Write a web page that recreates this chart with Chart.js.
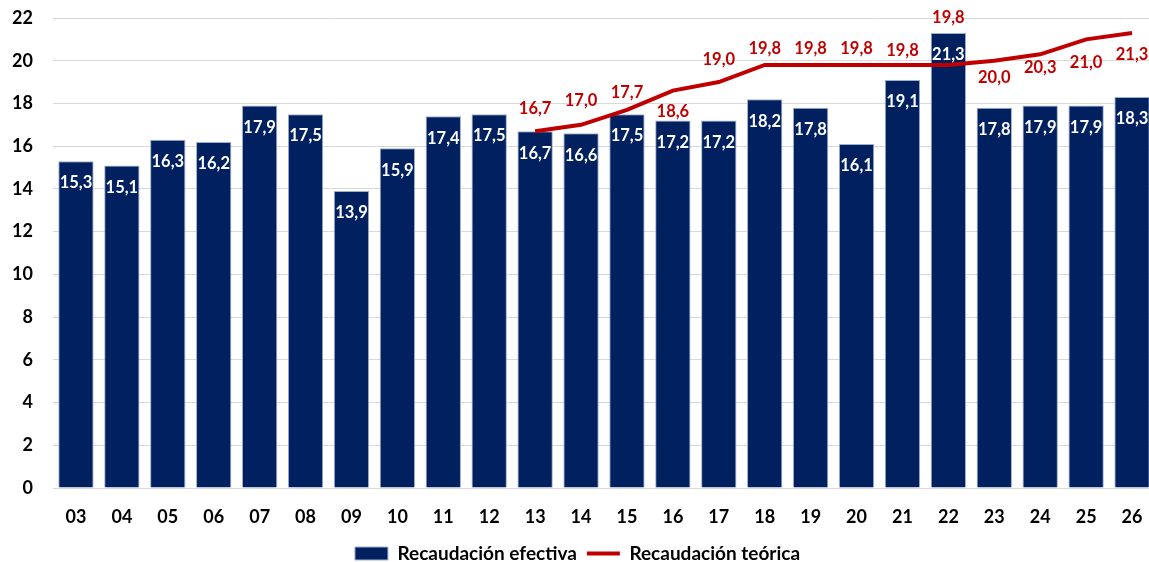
<!DOCTYPE html>
<html>
<head>
<meta charset="utf-8">
<script src="https://cdn.jsdelivr.net/npm/chart.js@4"></script>
<style>
  html, body { margin: 0; padding: 0; background: #fff; overflow: hidden; }
  #wrap { width: 1155px; height: 573px; }
</style>
</head>
<body>
<div id="wrap"><canvas id="grafico"></canvas></div>
<script>
// Datos
const anios = ['03','04','05','06','07','08','09','10','11','12','13','14','15','16','17','18','19','20','21','22','23','24','25','26'];
const recaudacionEfectiva = [15.3, 15.1, 16.3, 16.2, 17.9, 17.5, 13.9, 15.9, 17.4, 17.5, 16.7, 16.6, 17.5, 17.2, 17.2, 18.2, 17.8, 16.1, 19.1, 21.3, 17.8, 17.9, 17.9, 18.3];
const recaudacionTeorica = [null, null, null, null, null, null, null, null, null, null, 16.7, 17.0, 17.7, 18.6, 19.0, 19.8, 19.8, 19.8, 19.8, 19.8, 20.0, 20.3, 21.0, 21.3];
const ticksY = [0, 2, 4, 6, 8, 10, 12, 14, 16, 18, 20, 22];

const fuente = 'Lato, "Liberation Sans", sans-serif';
const azul = '#002060';
const rojo = '#c00000';

// desplazamiento vertical de las etiquetas de la línea (px, respecto al punto)
const desplazamientoTeorica = {10: -23, 11: -24, 12: -17, 13: 21, 14: -22, 15: -16, 16: -16, 17: -16, 18: -14, 19: -47, 20: 17, 21: 13, 22: 23, 23: 22};

const formato = v => v.toFixed(1).replace('.', ',');

// Etiquetas de valores
const etiquetasPlugin = {
  id: 'etiquetas',
  afterDatasetsDraw(chart) {
    const ctx = chart.ctx;
    ctx.save();
    ctx.textAlign = 'center';
    ctx.textBaseline = 'middle';
    ctx.font = 'bold 16.5px ' + fuente;

    // barras: texto blanco dentro de la barra
    const metaBarras = chart.getDatasetMeta(0);
    ctx.fillStyle = '#ffffff';
    metaBarras.data.forEach((bar, i) => {
      ctx.fillText(formato(recaudacionEfectiva[i]), bar.x, bar.y + 22);
    });

    // línea: texto rojo
    const metaLinea = chart.getDatasetMeta(1);
    ctx.fillStyle = rojo;
    metaLinea.data.forEach((pt, i) => {
      const v = recaudacionTeorica[i];
      if (v === null) return;
      const dy = desplazamientoTeorica[i] ?? -20;
      ctx.fillText(formato(v), pt.x, pt.y + dy);
    });
    ctx.restore();
  }
};

const ctx = document.getElementById('grafico').getContext('2d');

new Chart(ctx, {
  type: 'bar',
  data: {
    labels: anios,
    datasets: [
      {
        type: 'bar',
        label: 'Recaudación efectiva',
        data: recaudacionEfectiva,
        backgroundColor: azul,
        borderColor: '#9fb0cc',
        borderWidth: 1,
        barPercentage: 0.77,
        categoryPercentage: 1,
        pointStyle: 'rect',
        order: 2
      },
      {
        type: 'line',
        label: 'Recaudación teórica',
        data: recaudacionTeorica,
        borderColor: rojo,
        backgroundColor: rojo,
        borderWidth: 4,
        pointRadius: 0,
        pointStyle: 'line',
        tension: 0,
        order: 1
      }
    ]
  },
  options: {
    responsive: true,
    maintainAspectRatio: false,
    animation: false,
    layout: {
      padding: { top: 18, right: 0, left: 0, bottom: 0 }
    },
    plugins: {
      tooltip: { enabled: false },
      legend: {
        position: 'bottom',
        labels: {
          usePointStyle: true,
          pointStyleWidth: 33,
          boxHeight: 13,
          padding: 10,
          color: '#000',
          font: { family: fuente, size: 19, weight: 'bold' },
          sort: (a, b) => a.datasetIndex - b.datasetIndex
        }
      }
    },
    scales: {
      x: {
        afterFit: s => { s.height = 46; s.paddingLeft = 0; s.paddingRight = 0; },
        grid: { display: false, drawTicks: false },
        border: { display: false },
        ticks: {
          color: '#000',
          padding: 18,
          font: { family: fuente, size: 18, weight: 'bold' }
        }
      },
      y: {
        min: 0,
        max: 22,
        afterFit: s => { s.width = 53; s.paddingTop = 0; s.paddingBottom = 0; },
        afterBuildTicks: s => { s.ticks = ticksY.map(v => ({ value: v })); },
        grid: { color: '#d9d9d9', lineWidth: 1, drawTicks: false },
        border: { display: false },
        ticks: {
          color: '#000',
          padding: 20,
          font: { family: fuente, size: 18, weight: 'bold' }
        }
      }
    }
  },
  plugins: [etiquetasPlugin]
});
</script>
</body>
</html>
